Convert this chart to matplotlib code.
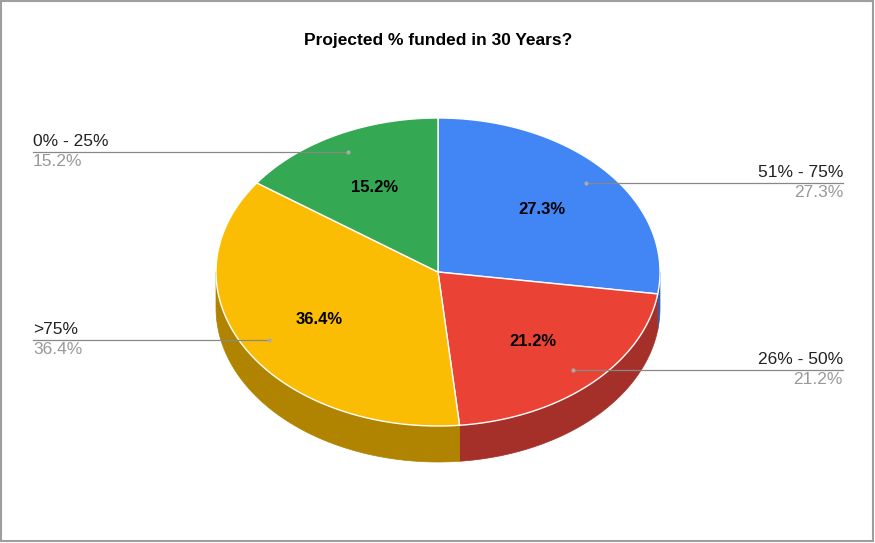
import numpy as np
import matplotlib
matplotlib.use("Agg")
import matplotlib.pyplot as plt
from matplotlib.patches import Polygon, Rectangle

plt.rcParams['font.family'] = ['Liberation Sans', 'DejaVu Sans']

categories = ["51% - 75%", "26% - 50%", ">75%", "0% - 25%"]
values = [27.3, 21.2, 36.4, 15.2]
colors = ["#4285f4", "#ea4335", "#fbbc04", "#34a853"]
side_colors = ["#2e5db0", "#a5302a", "#b08400", "#25763b"]
title = "Projected % funded in 30 Years?"

W, H = 875, 543
fig = plt.figure(figsize=(W/100, H/100), dpi=100)
ax = fig.add_axes([0, 0, 1, 1])
ax.set_xlim(0, W); ax.set_ylim(H, 0); ax.axis('off')
ax.add_patch(Rectangle((1, 1), W-3, H-3, fill=False, ec="#9e9e9e", lw=1.5))

cx, cy, rx, ry, depth = 438, 272, 222, 154, 36
def pt(t, r=1.0, dy=0):
    return cx + r*rx*np.cos(np.radians(t)), cy - r*ry*np.sin(np.radians(t)) + dy

total = sum(values)
bounds = [90.0]
for v in values:
    bounds.append(bounds[-1] - 360*v/total)

# sides
for i in range(len(values)):
    a0, a1 = bounds[i], bounds[i+1]
    lo, hi = max(min(a0, a1), -180), min(max(a0, a1), 0)
    for shift in (0, -360):
        l, h = max(min(a0, a1), -180+shift), min(max(a0, a1), 0+shift)
        if h > l:
            ts = np.linspace(l, h, 80)
            top = [pt(t) for t in ts]
            bot = [pt(t, dy=depth) for t in ts[::-1]]
            ax.add_patch(Polygon(top+bot, closed=True, fc=side_colors[i], ec=side_colors[i], lw=0.5))
# tops
for i in range(len(values)):
    ts = np.linspace(bounds[i], bounds[i+1], 200)
    poly = [(cx, cy)] + [pt(t) for t in ts]
    ax.add_patch(Polygon(poly, closed=True, fc=colors[i], ec="white", lw=1))

for i, (c, v) in enumerate(zip(categories, values)):
    mid = (bounds[i] + bounds[i+1]) / 2
    x, y = pt(mid, 0.62)
    ax.text(x, y, f"{v:.1f}%", ha='center', va='center', fontsize=12, fontweight='bold', color='black')
    dx, dy = pt(mid, 0.88)
    right = np.cos(np.radians(mid)) > 0
    ex = 843 if right else 33
    ax.plot([dx, ex], [dy, dy], color="#888888", lw=0.9)
    ax.plot([dx], [dy], 'o', ms=2, color="#aaaaaa")
    ha = 'right' if right else 'left'
    ax.text(ex, dy-3, c, ha=ha, va='bottom', fontsize=12.5, color="#222222")
    ax.text(ex, dy+2, f"{v:.1f}%", ha=ha, va='top', fontsize=12.5, color="#999999")

ax.text(438, 40, title, ha='center', va='center', fontsize=12.5, fontweight='bold')
fig.savefig("out.png", dpi=100)
